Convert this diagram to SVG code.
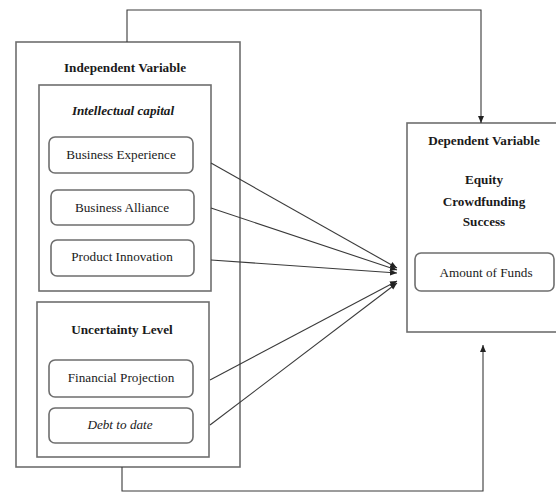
<svg xmlns="http://www.w3.org/2000/svg" width="556" height="493" viewBox="0 0 556 493">
<defs>
<style>
.box{fill:none;stroke:#6e6e6e;stroke-width:1.6}
.rbox{fill:#fff;stroke:#6e6e6e;stroke-width:1.6}
.ln{fill:none;stroke:#3a3a3a;stroke-width:1.1}
.t{font-family:"Liberation Serif","Times New Roman",serif;font-size:13.2px;fill:#1a1a1a;text-anchor:middle}
.b{font-weight:bold}
.i{font-style:italic}
</style>
<marker id="ah" markerWidth="8" markerHeight="8" refX="7" refY="4" orient="auto" markerUnits="userSpaceOnUse">
<path d="M0,1 L7,4 L0,7 Z" fill="#222"/>
</marker>
</defs>
<rect width="556" height="493" fill="#fff"/>

<g id="independent">
<rect class="box" x="16" y="42" width="224" height="425"/>
<text class="t b" x="125" y="72">Independent Variable</text>
</g>
<g id="intellectual">
<rect class="box" x="39" y="85" width="172" height="206"/>
<text class="t b i" x="123" y="115">Intellectual capital</text>
</g>
<g id="experience">
<rect class="rbox" x="49" y="137" width="144" height="36" rx="6"/>
<text class="t" x="121" y="159">Business Experience</text>
</g>
<g id="alliance">
<rect class="rbox" x="51" y="190" width="143" height="35" rx="6"/>
<text class="t" x="122" y="212">Business Alliance</text>
</g>
<g id="innovation">
<rect class="rbox" x="51" y="240" width="143" height="36" rx="6"/>
<text class="t" x="122" y="261">Product Innovation</text>
</g>
<g id="uncertainty">
<rect class="box" x="37" y="302" width="172" height="155"/>
<text class="t b" x="122" y="334">Uncertainty Level</text>
</g>
<g id="projection">
<rect class="rbox" x="49" y="360" width="144" height="37" rx="6"/>
<text class="t" x="121" y="382">Financial Projection</text>
</g>
<g id="debt">
<rect class="rbox" x="49" y="408" width="144" height="35" rx="6"/>
<text class="t i" x="120" y="429">Debt to date</text>
</g>
<g id="dependent">
<rect class="box" x="407" y="123" width="160" height="209"/>
<text class="t b" x="484" y="145">Dependent Variable</text>
<text class="t b" x="484" y="184">Equity</text>
<text class="t b" x="484" y="206">Crowdfunding</text>
<text class="t b" x="484" y="226">Success</text>
</g>
<g id="funds">
<rect class="rbox" x="415" y="253" width="139" height="38" rx="6"/>
<text class="t" x="486" y="277">Amount of Funds</text>
</g>

<g id="connectors">
<polyline class="ln" points="127,42 127,10 481,10 481,123" marker-end="url(#ah)"/>
<polyline class="ln" points="122,467 122,491 483,491 483,345" marker-end="url(#ah)"/>
<line class="ln" x1="211" y1="163" x2="397" y2="268" marker-end="url(#ah)"/>
<line class="ln" x1="211" y1="208" x2="397" y2="270" marker-end="url(#ah)"/>
<line class="ln" x1="211" y1="260" x2="397" y2="273" marker-end="url(#ah)"/>
<line class="ln" x1="210" y1="380" x2="397" y2="281" marker-end="url(#ah)"/>
<line class="ln" x1="210" y1="425" x2="397" y2="283" marker-end="url(#ah)"/>
</g>
</svg>
